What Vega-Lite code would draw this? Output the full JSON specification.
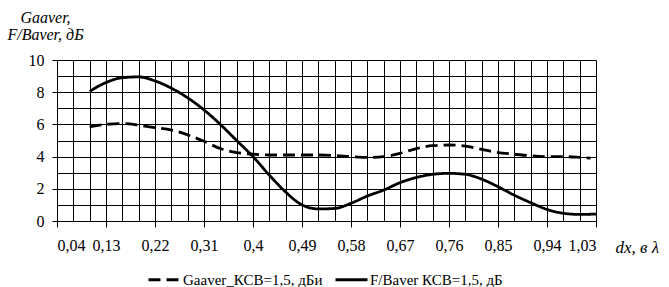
{
  "$schema": "https://vega.github.io/schema/vega-lite/v6.json",
  "width": 539,
  "height": 161,
  "autosize": {"type": "none"},
  "padding": {"left": 57, "top": 60, "right": 73, "bottom": 66},
  "background": "white",
  "config": {"view": {"stroke": null}, "font": "Liberation Serif"},
  "data": {"values": [
    {"s": "Gaaver_КСВ=1,5, дБи", "dx": 0.10, "v": 5.85},
    {"s": "Gaaver_КСВ=1,5, дБи", "dx": 0.13, "v": 6.0},
    {"s": "Gaaver_КСВ=1,5, дБи", "dx": 0.16, "v": 6.05},
    {"s": "Gaaver_КСВ=1,5, дБи", "dx": 0.19, "v": 5.95},
    {"s": "Gaaver_КСВ=1,5, дБи", "dx": 0.22, "v": 5.8},
    {"s": "Gaaver_КСВ=1,5, дБи", "dx": 0.25, "v": 5.65},
    {"s": "Gaaver_КСВ=1,5, дБи", "dx": 0.28, "v": 5.35},
    {"s": "Gaaver_КСВ=1,5, дБи", "dx": 0.31, "v": 4.95},
    {"s": "Gaaver_КСВ=1,5, дБи", "dx": 0.34, "v": 4.5},
    {"s": "Gaaver_КСВ=1,5, дБи", "dx": 0.37, "v": 4.25},
    {"s": "Gaaver_КСВ=1,5, дБи", "dx": 0.40, "v": 4.15},
    {"s": "Gaaver_КСВ=1,5, дБи", "dx": 0.43, "v": 4.1},
    {"s": "Gaaver_КСВ=1,5, дБи", "dx": 0.46, "v": 4.1},
    {"s": "Gaaver_КСВ=1,5, дБи", "dx": 0.49, "v": 4.1},
    {"s": "Gaaver_КСВ=1,5, дБи", "dx": 0.52, "v": 4.1},
    {"s": "Gaaver_КСВ=1,5, дБи", "dx": 0.55, "v": 4.07},
    {"s": "Gaaver_КСВ=1,5, дБи", "dx": 0.58, "v": 4.0},
    {"s": "Gaaver_КСВ=1,5, дБи", "dx": 0.61, "v": 3.95},
    {"s": "Gaaver_КСВ=1,5, дБи", "dx": 0.64, "v": 4.0},
    {"s": "Gaaver_КСВ=1,5, дБи", "dx": 0.67, "v": 4.2},
    {"s": "Gaaver_КСВ=1,5, дБи", "dx": 0.70, "v": 4.5},
    {"s": "Gaaver_КСВ=1,5, дБи", "dx": 0.73, "v": 4.68},
    {"s": "Gaaver_КСВ=1,5, дБи", "dx": 0.76, "v": 4.72},
    {"s": "Gaaver_КСВ=1,5, дБи", "dx": 0.79, "v": 4.65},
    {"s": "Gaaver_КСВ=1,5, дБи", "dx": 0.82, "v": 4.45},
    {"s": "Gaaver_КСВ=1,5, дБи", "dx": 0.85, "v": 4.25},
    {"s": "Gaaver_КСВ=1,5, дБи", "dx": 0.88, "v": 4.15},
    {"s": "Gaaver_КСВ=1,5, дБи", "dx": 0.91, "v": 4.05},
    {"s": "Gaaver_КСВ=1,5, дБи", "dx": 0.94, "v": 4.0},
    {"s": "Gaaver_КСВ=1,5, дБи", "dx": 0.97, "v": 4.0},
    {"s": "Gaaver_КСВ=1,5, дБи", "dx": 1.00, "v": 3.95},
    {"s": "Gaaver_КСВ=1,5, дБи", "dx": 1.02, "v": 3.9},
    {"s": "F/Baver КСВ=1,5, дБ", "dx": 0.10, "v": 8.05},
    {"s": "F/Baver КСВ=1,5, дБ", "dx": 0.13, "v": 8.6},
    {"s": "F/Baver КСВ=1,5, дБ", "dx": 0.16, "v": 8.9},
    {"s": "F/Baver КСВ=1,5, дБ", "dx": 0.19, "v": 8.95},
    {"s": "F/Baver КСВ=1,5, дБ", "dx": 0.22, "v": 8.7},
    {"s": "F/Baver КСВ=1,5, дБ", "dx": 0.25, "v": 8.25},
    {"s": "F/Baver КСВ=1,5, дБ", "dx": 0.28, "v": 7.65},
    {"s": "F/Baver КСВ=1,5, дБ", "dx": 0.31, "v": 6.9},
    {"s": "F/Baver КСВ=1,5, дБ", "dx": 0.34, "v": 6.0},
    {"s": "F/Baver КСВ=1,5, дБ", "dx": 0.37, "v": 5.0},
    {"s": "F/Baver КСВ=1,5, дБ", "dx": 0.40, "v": 4.0},
    {"s": "F/Baver КСВ=1,5, дБ", "dx": 0.43, "v": 2.85},
    {"s": "F/Baver КСВ=1,5, дБ", "dx": 0.46, "v": 1.8},
    {"s": "F/Baver КСВ=1,5, дБ", "dx": 0.49, "v": 1.0},
    {"s": "F/Baver КСВ=1,5, дБ", "dx": 0.52, "v": 0.75},
    {"s": "F/Baver КСВ=1,5, дБ", "dx": 0.55, "v": 0.78},
    {"s": "F/Baver КСВ=1,5, дБ", "dx": 0.58, "v": 1.1},
    {"s": "F/Baver КСВ=1,5, дБ", "dx": 0.61, "v": 1.55},
    {"s": "F/Baver КСВ=1,5, дБ", "dx": 0.64, "v": 1.92},
    {"s": "F/Baver КСВ=1,5, дБ", "dx": 0.67, "v": 2.38},
    {"s": "F/Baver КСВ=1,5, дБ", "dx": 0.70, "v": 2.7},
    {"s": "F/Baver КСВ=1,5, дБ", "dx": 0.73, "v": 2.9},
    {"s": "F/Baver КСВ=1,5, дБ", "dx": 0.76, "v": 2.96},
    {"s": "F/Baver КСВ=1,5, дБ", "dx": 0.79, "v": 2.9},
    {"s": "F/Baver КСВ=1,5, дБ", "dx": 0.82, "v": 2.6},
    {"s": "F/Baver КСВ=1,5, дБ", "dx": 0.85, "v": 2.13},
    {"s": "F/Baver КСВ=1,5, дБ", "dx": 0.88, "v": 1.6},
    {"s": "F/Baver КСВ=1,5, дБ", "dx": 0.91, "v": 1.14},
    {"s": "F/Baver КСВ=1,5, дБ", "dx": 0.94, "v": 0.72},
    {"s": "F/Baver КСВ=1,5, дБ", "dx": 0.97, "v": 0.48},
    {"s": "F/Baver КСВ=1,5, дБ", "dx": 1.00, "v": 0.41},
    {"s": "F/Baver КСВ=1,5, дБ", "dx": 1.03, "v": 0.43}
  ]},
  "mark": {"type": "line", "interpolate": "monotone", "color": "black", "strokeWidth": 2.8, "clip": true},
  "encoding": {
    "x": {
      "field": "dx", "type": "quantitative",
      "scale": {"domain": [0.04, 1.03], "nice": false, "zero": false},
      "axis": {
        "title": "dx, в λ",
        "titleFont": "Liberation Serif", "titleFontSize": 17, "titleFontStyle": "italic", "titleFontWeight": "normal",
        "titleAngle": 0, "titleAlign": "left", "titleBaseline": "middle",
        "titleX": 558, "titleY": 26,
        "values": [0.04,0.07,0.10,0.13,0.16,0.19,0.22,0.25,0.28,0.31,0.34,0.37,0.40,0.43,0.46,0.49,0.52,0.55,0.58,0.61,0.64,0.67,0.70,0.73,0.76,0.79,0.82,0.85,0.88,0.91,0.94,0.97,1.00,1.03],
        "labelExpr": "abs((datum.value-0.04)/0.09 - round((datum.value-0.04)/0.09)) < 0.01 ? replace(format(datum.value, '.2~f'), '.', ',') : ''",
        "labelOverlap": false,
        "labelFont": "Liberation Serif", "labelFontSize": 16, "labelColor": "black",
        "labelPadding": 10,
        "tickSize": 6, "tickColor": "black",
        "tickOpacity": {"condition": {"test": "abs((datum.value-0.04)/0.09 - round((datum.value-0.04)/0.09)) < 0.01", "value": 1}, "value": 0},
        "grid": true, "gridColor": "black", "gridWidth": 1, "gridOpacity": 1,
        "domainColor": "black", "domainWidth": 1
      }
    },
    "y": {
      "field": "v", "type": "quantitative",
      "scale": {"domain": [0, 10], "nice": false},
      "axis": {
        "title": ["Gaaver,", "F/Baver, дБ"],
        "titleFont": "Liberation Serif", "titleFontSize": 16, "titleFontStyle": "italic", "titleFontWeight": "normal",
        "titleAngle": 0, "titleAlign": "center", "titleBaseline": "top", "titleLineHeight": 17,
        "titleX": -12, "titleY": -51,
        "values": [0,1,2,3,4,5,6,7,8,9,10],
        "labelExpr": "datum.value % 2 == 0 ? datum.label : ''",
        "labelOverlap": false,
        "labelFont": "Liberation Serif", "labelFontSize": 16, "labelColor": "black",
        "labelPadding": 8,
        "tickSize": 5, "tickColor": "black",
        "tickOpacity": {"condition": {"test": "datum.value % 2 == 0", "value": 1}, "value": 0},
        "grid": true, "gridColor": "black", "gridWidth": 1, "gridOpacity": 1,
        "domainColor": "black", "domainWidth": 1
      }
    },
    "strokeDash": {
      "field": "s", "type": "nominal",
      "scale": {"domain": ["Gaaver_КСВ=1,5, дБи", "F/Baver КСВ=1,5, дБ"], "range": [[12, 6], [1, 0]]},
      "legend": {
        "title": null, "orient": "none", "direction": "horizontal",
        "legendX": 90, "legendY": 202,
        "symbolType": "stroke", "symbolSize": 1024, "symbolStrokeWidth": 3, "symbolStrokeColor": "black",
        "labelFont": "Liberation Serif", "labelFontSize": 15, "labelColor": "black", "labelLimit": 300,
        "labelOffset": 1, "columnPadding": 6
      }
    }
  }
}
